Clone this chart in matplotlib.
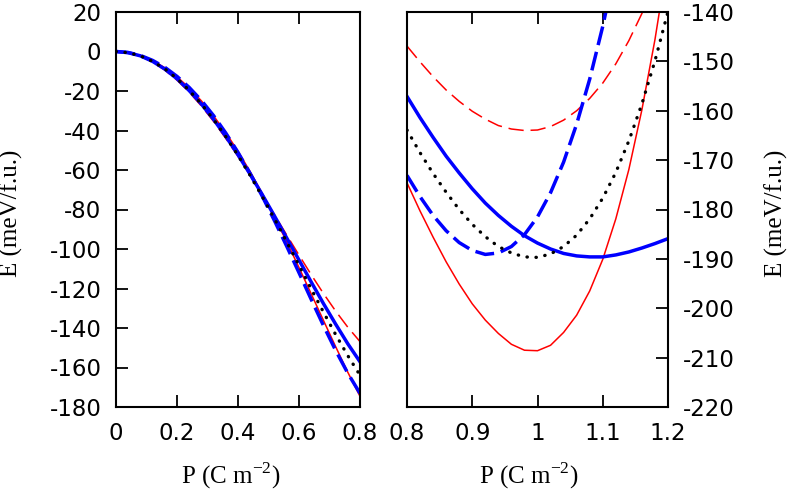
import numpy as np
import matplotlib
matplotlib.use("Agg")
import matplotlib.pyplot as plt

# Polarization grids (C m^-2)
P_left = [0.0, 0.04, 0.08, 0.12, 0.16, 0.2, 0.24, 0.28, 0.32, 0.36, 0.4,
          0.44, 0.48, 0.52, 0.56, 0.6, 0.64, 0.68, 0.72, 0.76, 0.8]
P_right = [0.8, 0.82, 0.84, 0.86, 0.88, 0.9, 0.92, 0.94, 0.96, 0.98, 1.0,
           1.02, 1.04, 1.06, 1.08, 1.1, 1.12, 1.14, 1.16, 1.18, 1.2]

# Energies (meV/f.u.)
red_solid_left = [0.0, -0.5, -2.0, -4.6, -8.2, -12.8, -18.4, -25.0, -32.6, -41.1, -50.5,
                  -60.9, -72.0, -83.9, -96.4, -109.4, -122.7, -136.1, -149.4, -162.4, -174.6]
red_solid_right = [-174.6, -180.3, -185.6, -190.6, -195.1, -199.1, -202.4, -205.1, -207.3, -208.5, -208.6,
                   -207.5, -204.9, -201.4, -196.5, -190.1, -181.9, -171.9, -159.8, -145.6, -129.0]
red_dashed_left = [0.0, -0.6, -2.4, -5.3, -9.4, -14.5, -20.6, -27.6, -35.4, -44.0, -53.1,
                   -62.7, -72.7, -82.8, -93.0, -103.1, -113.0, -122.5, -131.4, -139.6, -146.9]
red_dashed_right = [-146.9, -150.1, -153.1, -155.8, -158.1, -160.1, -161.7, -163.0, -163.7, -164.0, -163.9,
                    -163.2, -161.9, -160.0, -157.5, -154.4, -150.5, -145.8, -140.3, -133.9, -126.6]
blue_solid_left = [0.0, -0.6, -2.2, -5.0, -8.9, -13.8, -19.8, -26.6, -34.4, -43.0, -52.3,
                   -62.2, -72.6, -83.4, -94.5, -105.6, -116.7, -127.6, -138.0, -148.0, -157.1]
blue_solid_right = [-157.1, -161.4, -165.4, -169.2, -172.6, -175.8, -178.7, -181.2, -183.4, -185.3, -186.8,
                    -188.0, -188.9, -189.4, -189.6, -189.6, -189.2, -188.6, -187.8, -186.9, -185.9]
black_dotted_left = [0.0, -0.6, -2.2, -5.0, -8.8, -13.7, -19.7, -26.6, -34.4, -43.1, -52.6,
                     -62.8, -73.6, -84.8, -96.5, -108.3, -120.2, -131.9, -143.3, -154.0, -163.9]
black_dotted_right = [-163.9, -168.5, -172.7, -176.5, -180.0, -183.0, -185.5, -187.5, -188.8, -189.6, -189.7,
                      -189.0, -187.5, -185.2, -181.9, -177.7, -172.5, -166.1, -158.6, -149.9, -139.9]
blue_dashed_left = [0.0, -0.5, -2.0, -4.5, -8.0, -12.6, -18.2, -24.8, -32.5, -41.3, -51.1,
                    -61.8, -73.4, -85.8, -98.7, -112.0, -125.5, -138.7, -151.3, -162.9, -173.1]
blue_dashed_right = [-173.1, -177.4, -181.2, -184.3, -186.7, -188.3, -189.1, -188.8, -187.5, -185.1, -181.5,
                     -176.6, -170.4, -162.7, -153.6, -142.9, -130.6, -116.6, -101.0, -83.6, -64.5]

left_ticks_x = [0, 0.2, 0.4, 0.6, 0.8]
left_ticklabels_x = ['0', '0.2', '0.4', '0.6', '0.8']
right_ticks_x = [0.8, 0.9, 1.0, 1.1, 1.2]
right_ticklabels_x = ['0.8', '0.9', '1', '1.1', '1.2']
left_ticks_y = [20, 0, -20, -40, -60, -80, -100, -120, -140, -160, -180]
right_ticks_y = [-140, -150, -160, -170, -180, -190, -200, -210, -220]

series = [
    (red_solid_left, red_solid_right, dict(color='#ff0000', lw=1.1)),
    (red_dashed_left, red_dashed_right, dict(color='#ff0000', lw=1.1, ls=(0, (10, 4.5)))),
    (blue_solid_left, blue_solid_right, dict(color='#0000ff', lw=2.5)),
    (blue_dashed_left, blue_dashed_right, dict(color='#0000ff', lw=2.5, ls=(0, (5.5, 2)))),
    (black_dotted_left, black_dotted_right,
     dict(color='k', lw=2.4, ls=(0, (0.1, 2.6)), dash_capstyle='round')),
]

plt.rcParams['axes.unicode_minus'] = False
fig = plt.figure(figsize=(7.89, 4.92), dpi=100)
ax1 = fig.add_axes([116/789, 1-407/492, 244/789, 395/492])
ax2 = fig.add_axes([407/789, 1-407/492, 261/789, 395/492])

for yl, yr, st in series:
    ax1.plot(P_left, yl, **st)
    ax2.plot(P_right, yr, **st)

ax1.set_xlim(0, 0.8); ax1.set_ylim(-180, 20)
ax2.set_xlim(0.8, 1.2); ax2.set_ylim(-220, -140)
ax1.set_xticks(left_ticks_x); ax1.set_xticklabels(left_ticklabels_x)
ax1.set_yticks(left_ticks_y)
ax2.set_xticks(right_ticks_x); ax2.set_xticklabels(right_ticklabels_x)
ax2.set_yticks(right_ticks_y)

for ax in (ax1, ax2):
    for s in ax.spines.values():
        s.set_linewidth(1.5)
    ax.tick_params(axis='x', which='both', direction='in', top=True, bottom=True,
                   length=8.5, width=1.3, labelsize=16.5, pad=11)
ax1.tick_params(axis='y', direction='in', left=True, right=False, length=8.5, width=1.3,
                labelsize=16.5, pad=10.5)
ax2.tick_params(axis='y', direction='in', left=False, right=True, labelleft=False,
                labelright=True, length=8.5, width=1.3, labelsize=16.5, pad=10.5)

lab = dict(fontsize=18, family='Liberation Serif')
xl = r'P (C m$^{\mathregular{-2}}$)'
ax1.set_xlabel(xl, **lab)
ax2.set_xlabel(xl, **lab)
ax1.xaxis.set_label_coords(0.47, -0.135)
ax2.xaxis.set_label_coords(0.467, -0.135)
ax1.set_ylabel('E (meV/f.u.)', **lab)
ax1.yaxis.set_label_coords(-0.381, 0.49)
ax2.yaxis.set_label_position('right')
ax2.set_ylabel('E (meV/f.u.)', rotation=90, **lab)
ax2.yaxis.set_label_coords(1.372, 0.49)

fig.savefig('out.png')
